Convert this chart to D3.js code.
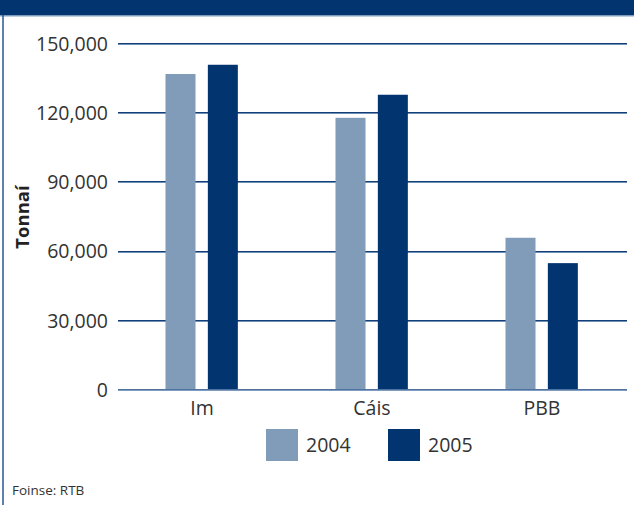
<!DOCTYPE html>
<html><head><meta charset="utf-8">
<script src="https://cdn.jsdelivr.net/npm/d3@7"></script>
<style>
html,body{margin:0;padding:0;background:#fff;}
svg{display:block;font-family:"Open Sans","Noto Sans",sans-serif;}
</style></head>
<body>
<script>
const categories = ["Im", "Cáis", "PBB"];
const seriesNames = ["2004", "2005"];
const values2004 = [137000, 118000, 66000];
const values2005 = [141000, 128000, 55000];
const yTicks = [0, 30000, 60000, 90000, 120000, 150000];
const yLabel = "Tonnaí";
const sourceText = "Foinse: RTB";

const W = 634, H = 505;
const colors = ["#809cb8", "#02346f"];
const textColor = "#333";
const fontSize = 19.5;
const svg = d3.select("body").append("svg").attr("width", W).attr("height", H);

// header band and frame
svg.append("rect").attr("x", 0).attr("y", 0).attr("width", W).attr("height", 15.5).attr("fill", "#02346f");
svg.append("line").attr("x1", 0).attr("x2", W).attr("y1", 16).attr("y2", 16).attr("stroke", "#7f9cc0").attr("stroke-width", 1);
svg.append("line").attr("x1", 3).attr("x2", 3).attr("y1", 15).attr("y2", H).attr("stroke", "#2a5590").attr("stroke-width", 1.5);

const x = d3.scaleBand().domain(categories).range([117, 627]).paddingInner(0).paddingOuter(0);
const y = d3.scaleLinear().domain([0, 150000]).range([390, 44]);

// grid lines
const grid = svg.append("g");
yTicks.forEach(t => {
  const yy = Math.round(y(t));
  grid.append("line").attr("x1", 118).attr("x2", 627).attr("y1", yy - 0.5).attr("y2", yy - 0.5)
    .attr("stroke", t === 0 ? "#4f72a0" : "#123f78").attr("stroke-width", 1);
  grid.append("line").attr("x1", 118).attr("x2", 627).attr("y1", yy + 0.5).attr("y2", yy + 0.5)
    .attr("stroke", t === 0 ? "#7f9cc0" : "#6f8fb5").attr("stroke-width", 1);
});

// y axis labels
const yAxis = d3.axisLeft(y).tickValues(yTicks).tickFormat(d3.format(",")).tickSize(0).tickPadding(0);
const yg = svg.append("g").attr("transform", "translate(108,0)").call(yAxis);
yg.select(".domain").remove();
yg.selectAll("text").attr("font-size", fontSize).attr("fill", textColor).attr("font-family", "'Open Sans','Noto Sans',sans-serif");

// bars
const sub = d3.scaleBand().domain(seriesNames).range([0, 73]).paddingInner(0.3);
const data = categories.map((c, i) => ({ c, vals: [values2004[i], values2005[i]] }));
const groups = svg.append("g").selectAll("g").data(data).join("g")
  .attr("transform", d => `translate(${x(d.c) + x.bandwidth() / 2 - 36.5},0)`);
groups.selectAll("rect").data(d => d.vals.map((v, j) => ({ v, s: seriesNames[j], j })))
  .join("rect")
  .attr("x", d => sub(d.s) + (d.j === 0 ? 0 : -0.6))
  .attr("width", 30)
  .attr("y", d => y(d.v))
  .attr("height", d => y(0) - y(d.v) - 1)
  .attr("fill", d => colors[d.j]);

// x axis labels
const xAxis = d3.axisBottom(x).tickSize(0).tickPadding(0);
const xg = svg.append("g").attr("transform", "translate(0,401)").call(xAxis);
xg.select(".domain").remove();
xg.selectAll("text").attr("font-size", fontSize).attr("fill", textColor).attr("font-family", "'Open Sans','Noto Sans',sans-serif");

// y label
svg.append("text").attr("transform", "translate(28.5,217) rotate(-90)")
  .attr("text-anchor", "middle").attr("font-size", 18.5).attr("font-weight", "bold").attr("fill", "#222")
  .text(yLabel);

// legend
const legendX = [266, 388];
seriesNames.forEach((s, i) => {
  svg.append("rect").attr("x", legendX[i]).attr("y", 429).attr("width", 32).attr("height", 32).attr("fill", colors[i]);
  svg.append("text").attr("x", legendX[i] + 40).attr("y", 445).attr("dy", "0.35em")
    .attr("font-size", fontSize).attr("fill", textColor).text(s);
});

// source
svg.append("text").attr("x", 12).attr("y", 495).attr("font-size", 13.5).attr("fill", textColor).text(sourceText);
</script>
</body></html>
